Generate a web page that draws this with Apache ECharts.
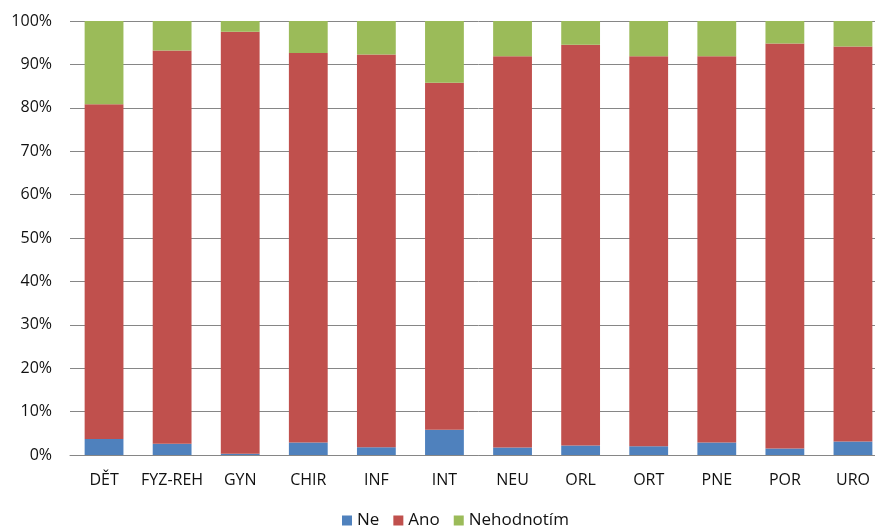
<!DOCTYPE html>
<html>
<head>
<meta charset="utf-8">
<script src="https://cdn.jsdelivr.net/npm/echarts@6/dist/echarts.min.js"></script>
<style>
  html, body { margin: 0; padding: 0; background: #fff; overflow: hidden; }
  #chart { width: 887px; height: 530px; }
</style>
</head>
<body>
<div id="chart"></div>
<script>
const categories = ["DĚT", "FYZ-REH", "GYN", "CHIR", "INF", "INT", "NEU", "ORL", "ORT", "PNE", "POR", "URO"];
const ne = [3.7, 2.6, 0.3, 2.9, 1.8, 5.8, 1.7, 2.2, 2.0, 2.9, 1.5, 3.1];
const ano = [77.1, 90.6, 97.2, 89.7, 90.5, 80.0, 90.2, 92.3, 89.9, 89.0, 93.3, 91.0];
const nehodnotim = [19.2, 6.8, 2.5, 7.4, 7.7, 14.2, 8.1, 5.5, 8.1, 8.1, 5.2, 5.9];
const seriesNames = ["Ne", "Ano", "Nehodnotím"];
const colors = ["#4F81BD", "#C0504D", "#9BBB59"];

let mychart = echarts.init(document.getElementById("chart"));
const font = "'Open Sans', 'Liberation Sans', sans-serif";
let option = {
  animation: false,
  color: colors,
  grid: {
    left: 70,
    top: 21,
    bottom: 75,
    right: 0
  },
  legend: {
    bottom: -4,
    left: 337,
    itemWidth: 10,
    itemHeight: 10,
    itemGap: 14,
    icon: "rect",
    textStyle: { fontSize: 17, color: "#111", fontFamily: font },
    data: seriesNames
  },
  xAxis: {
    type: "category",
    data: categories,
    axisTick: { show: false },
    axisLine: { lineStyle: { color: "#868686" } },
    axisLabel: { interval: 0, fontSize: 16, color: "#111", margin: 17, fontFamily: font }
  },
  yAxis: {
    type: "value",
    min: 0,
    max: 100,
    interval: 10,
    axisLine: { show: false },
    axisTick: { show: false },
    splitLine: { lineStyle: { color: "#868686" } },
    axisLabel: {
      fontSize: 16,
      color: "#111",
      margin: 18,
      fontFamily: font,
      formatter: "{value}%"
    }
  },
  series: [
    { name: seriesNames[0], type: "bar", stack: "all", barWidth: "57%", data: ne },
    { name: seriesNames[1], type: "bar", stack: "all", data: ano },
    { name: seriesNames[2], type: "bar", stack: "all", data: nehodnotim }
  ]
};
mychart.setOption(option);
</script>
</body>
</html>
